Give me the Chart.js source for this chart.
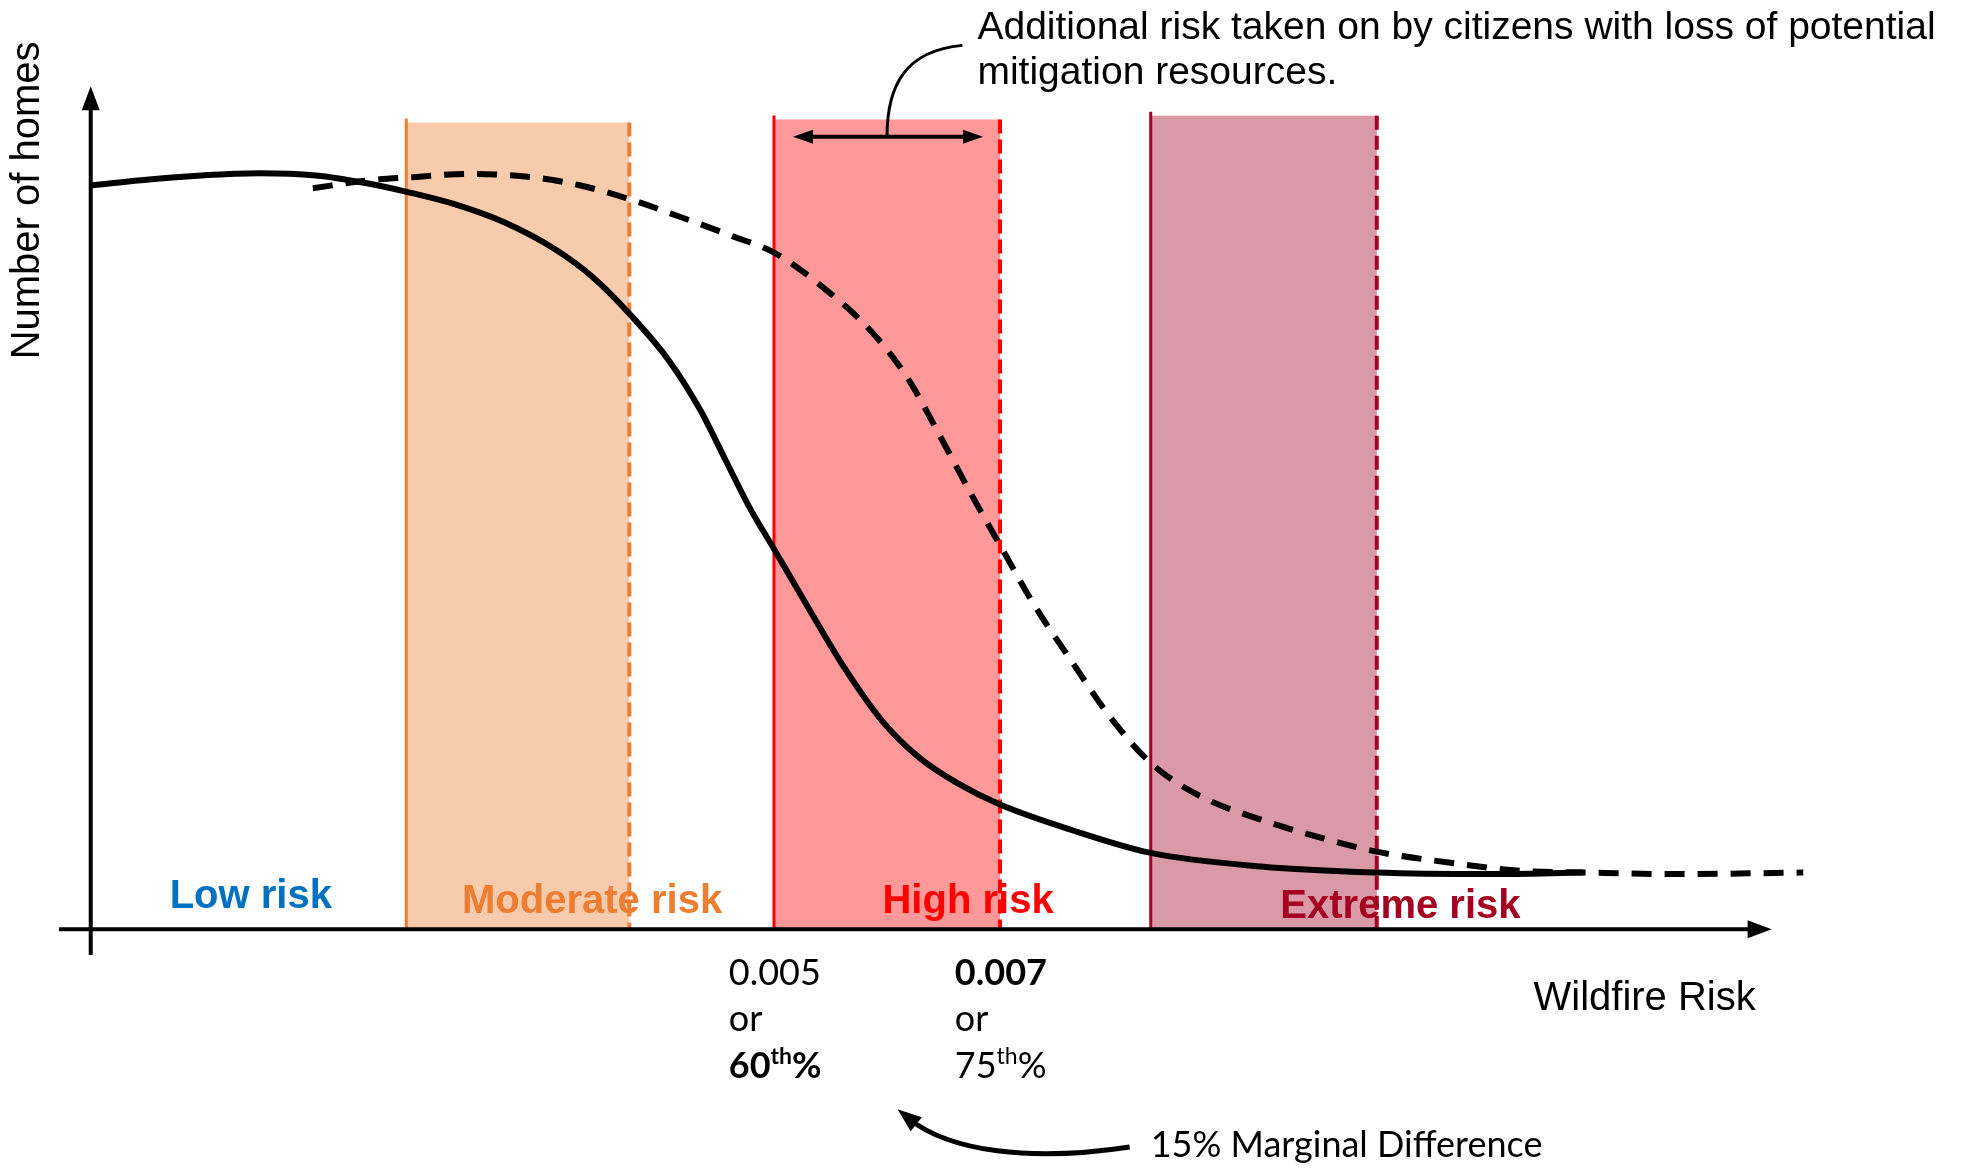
<!DOCTYPE html>
<html>
<head>
<meta charset="utf-8">
<script src="https://cdn.jsdelivr.net/npm/chart.js@4.4.0/dist/chart.umd.min.js"></script>
<style>
	html, body { margin: 0; padding: 0; background: #fff; overflow: hidden; }
</style>
</head>
<body>
<canvas id="chart" width="1977" height="1169"></canvas>
<script>
// x = wildfire risk percentile, y = relative number of homes (x axis at 0)
const currentRisk  = [14.7, 18.7, 22.0, 25.8, 29.6, 32.9, 35.7, 38.8, 42.1, 45.5, 48.0, 50.5, 53.0, 55.1, 56.8, 58.4, 60.0, 62.2, 64.7, 67.2, 69.7, 72.2, 75.0, 79.8, 85.0, 92.3, 99.9, 107.4, 113.7];
const currentHomes = [98.4, 99.2, 99.7, 100.0, 99.7, 98.7, 97.5, 95.9, 93.5, 89.9, 86.2, 81.2, 75.3, 68.7, 62.0, 55.7, 50.3, 42.8, 34.5, 27.5, 22.6, 19.3, 16.5, 13.1, 10.1, 8.3, 7.5, 7.3, 7.5];

const shiftedRisk  = [29.4, 32.9, 36.3, 39.6, 43.8, 47.1, 50.5, 53.8, 57.2, 60.0, 63.0, 66.4, 68.9, 71.0, 73.1, 75.0, 77.3, 79.8, 82.3, 85.0, 88.1, 92.3, 96.5, 99.9, 104.9, 109.1, 114.1, 119.9, 128.3];
const shiftedHomes = [98.0, 99.0, 99.5, 99.9, 99.5, 98.4, 96.5, 94.2, 91.7, 89.5, 85.3, 79.2, 72.8, 65.3, 57.5, 50.8, 42.8, 35.3, 28.1, 22.0, 17.8, 14.5, 12.0, 10.3, 8.8, 7.8, 7.5, 7.3, 7.5];

const riskLevels = ['Low risk', 'Moderate risk', 'High risk', 'Extreme risk'];
const bandStart = [35.6, 60, 85];
const bandEnd = [50.4, 75, 100];
const bandTop = [106.7, 107.1, 107.6];

const tickValues = [60, 75];
const tickRisk = ['0.005', '0.007'];
const tickPct = ['60', '75'];

// styles
const levelColors = ['#0070C0', '#ED7D31', '#FF0000', '#A50021'];
const bandFill = ['#F8CBAD', '#FF9999', '#DA99A6'];
const bandLine = ['#ED7D31', '#FF0000', '#A50021'];
const tickRiskBold = [false, true];
const tickPctBold = [true, false];

// where the texts and arrows sit, in data units
const levelLabelX = [19.9, 39.3, 67.2, 93.6];
const levelLabelY = [2.8, 2.1, 2.1, 1.5];
const ARIAL = '"Liberation Sans", Arial, sans-serif';
const CALIBRI = 'Lato, "Open Sans", sans-serif';

function arrowHead(ctx, tx, ty, ang, len, half) {
	ctx.beginPath();
	ctx.moveTo(tx, ty);
	ctx.lineTo(tx - len * Math.cos(ang) + half * Math.sin(ang), ty - len * Math.sin(ang) - half * Math.cos(ang));
	ctx.lineTo(tx - len * Math.cos(ang) - half * Math.sin(ang), ty - len * Math.sin(ang) + half * Math.cos(ang));
	ctx.closePath();
	ctx.fill();
}

const diagram = {
	id: 'diagram',
	beforeDatasetsDraw(chart) {
		const ctx = chart.ctx;
		const xs = chart.scales.x, ys = chart.scales.y;
		ctx.save();
		bandStart.forEach((s, i) => {
			const x0 = xs.getPixelForValue(s), x1 = xs.getPixelForValue(bandEnd[i]);
			const yt = ys.getPixelForValue(bandTop[i]), yb = ys.getPixelForValue(0);
			ctx.fillStyle = bandFill[i];
			ctx.fillRect(x0, yt, x1 - x0, yb - yt);
			ctx.strokeStyle = bandLine[i];
			ctx.lineWidth = 3;
			ctx.setLineDash([]);
			ctx.beginPath();
			ctx.moveTo(x0, yt - 4);
			ctx.lineTo(x0, yb);
			ctx.stroke();
			ctx.lineWidth = 4;
			ctx.setLineDash([14, 6]);
			ctx.beginPath();
			ctx.moveTo(x1, yt);
			ctx.lineTo(x1, yb);
			ctx.stroke();
		});
		ctx.restore();
	},
	afterDatasetsDraw(chart) {
		const ctx = chart.ctx;
		const xs = chart.scales.x, ys = chart.scales.y;
		const X = v => xs.getPixelForValue(v), Y = v => ys.getPixelForValue(v);
		ctx.save();
		ctx.fillStyle = '#000';
		ctx.strokeStyle = '#000';
		ctx.setLineDash([]);

		// axes
		ctx.lineWidth = 4;
		ctx.beginPath();
		ctx.moveTo(X(12.55), Y(0));
		ctx.lineTo(X(126.2) - 15, Y(0));
		ctx.moveTo(X(14.66), Y(-3.4));
		ctx.lineTo(X(14.66), Y(111.5) + 15);
		ctx.stroke();
		arrowHead(ctx, X(126.2), Y(0), 0, 24, 9);
		arrowHead(ctx, X(14.66), Y(111.5), -Math.PI / 2, 24, 9);

		// risk level names
		ctx.textBaseline = 'alphabetic';
		ctx.textAlign = 'left';
		ctx.font = 'bold 40px ' + ARIAL;
		riskLevels.forEach((t, i) => {
			ctx.fillStyle = levelColors[i];
			ctx.fillText(t, X(levelLabelX[i]), Y(levelLabelY[i]));
		});

		// tick labels
		ctx.fillStyle = '#000';
		tickValues.forEach((v, i) => {
			const x = X(v - 3);
			ctx.font = (tickRiskBold[i] ? 'bold ' : '') + '36px ' + CALIBRI;
			ctx.fillText(tickRisk[i], x, Y(-7.4));
			ctx.font = '36px ' + CALIBRI;
			ctx.fillText('or', x, Y(-13.4));
			const big = (tickPctBold[i] ? 'bold ' : '') + '36px ' + CALIBRI;
			const small = (tickPctBold[i] ? 'bold ' : '') + '23px ' + CALIBRI;
			let cx = x;
			ctx.font = big;
			ctx.fillText(tickPct[i], cx, Y(-19.7));
			cx += ctx.measureText(tickPct[i]).width;
			ctx.font = small;
			ctx.fillText('th', cx, Y(-19.7) - 14);
			cx += ctx.measureText('th').width;
			ctx.font = big;
			ctx.fillText('%', cx, Y(-19.7));
		});

		// axis titles
		ctx.font = '40px ' + ARIAL;
		ctx.fillText('Wildfire Risk', X(110.4), Y(-10.7));
		ctx.save();
		ctx.translate(X(10.5), Y(96.4));
		ctx.rotate(-Math.PI / 2);
		ctx.textAlign = 'center';
		ctx.textBaseline = 'middle';
		ctx.fillText('Number of homes', 0, 0);
		ctx.restore();

		// note on the shift
		ctx.font = '39px ' + ARIAL;
		ctx.fillText('Additional risk taken on by citizens with loss of potential', X(73.5), Y(117.7));
		ctx.fillText('mitigation resources.', X(73.5), Y(111.8));
		ctx.lineWidth = 3;
		ctx.beginPath();
		ctx.moveTo(X(72.5), Y(116.9));
		ctx.bezierCurveTo(X(68.7), Y(116.2), X(67.5), Y(111.6), X(67.5), Y(104.8));
		ctx.stroke();
		ctx.lineWidth = 4;
		ctx.beginPath();
		ctx.moveTo(X(61.26) + 14, Y(104.8));
		ctx.lineTo(X(73.87) - 14, Y(104.8));
		ctx.stroke();
		arrowHead(ctx, X(61.26), Y(104.8), Math.PI, 20, 7);
		arrowHead(ctx, X(73.87), Y(104.8), 0, 20, 7);

		// marginal difference
		ctx.font = '36px ' + CALIBRI;
		ctx.fillText('15% Marginal Difference', X(85.0), Y(-30.1));
		ctx.lineWidth = 5;
		ctx.beginPath();
		ctx.moveTo(X(83.6), Y(-28.8));
		ctx.bezierCurveTo(X(77.0), Y(-30.8), X(71.7), Y(-29.4), X(68.9), Y(-25.0));
		ctx.stroke();
		arrowHead(ctx, X(68.2), Y(-23.8), Math.atan2(Y(-23.8) - Y(-29.4), X(68.2) - X(71.7)), 24, 9);
		ctx.restore();
	}
};

new Chart(document.getElementById('chart'), {
	type: 'line',
	data: {
		datasets: [{
			label: 'Current',
			data: currentRisk.map((r, i) => ({x: r, y: currentHomes[i]})),
			borderColor: '#000',
			borderWidth: 6,
			pointRadius: 0,
			cubicInterpolationMode: 'monotone'
		}, {
			label: 'Without mitigation resources',
			data: shiftedRisk.map((r, i) => ({x: r, y: shiftedHomes[i]})),
			borderColor: '#000',
			borderWidth: 6,
			borderDash: [20, 13],
			pointRadius: 0,
			cubicInterpolationMode: 'monotone'
		}]
	},
	options: {
		responsive: false,
		animation: false,
		devicePixelRatio: 1,
		layout: { padding: 0 },
		scales: {
			x: { type: 'linear', min: 8.64, max: 139.83, display: false },
			y: { type: 'linear', min: -31.7, max: 122.9, display: false }
		},
		plugins: {
			legend: { display: false },
			tooltip: { enabled: false }
		}
	},
	plugins: [diagram]
});
</script>
</body>
</html>
